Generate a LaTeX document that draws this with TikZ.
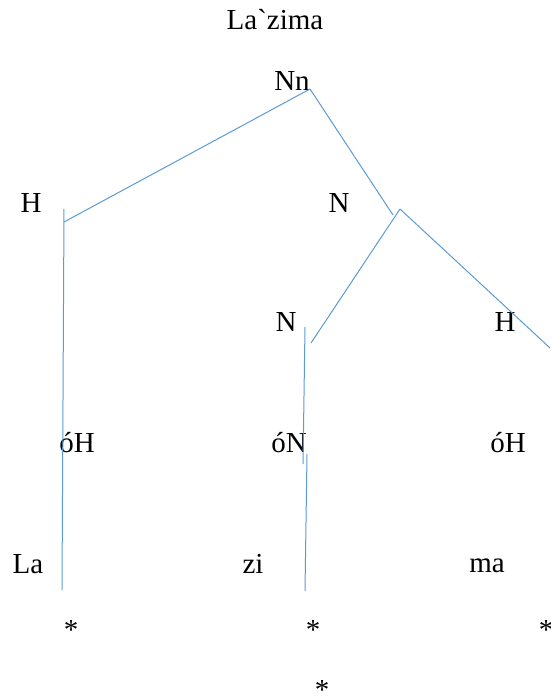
\documentclass[tikz,border=0pt]{standalone}
\usepackage{fontspec}
\setmainfont{Liberation Serif}[Ligatures=TeXOff]
\definecolor{branchblue}{HTML}{5B9BD5}

\tikzset{
    lbl/.style={anchor=base,inner sep=0pt,font=\fontsize{29}{34}\selectfont},
    branch/.style={draw=branchblue,line width=1pt}
}

\begin{document}
\begin{tikzpicture}[x=1pt,y=-1pt]
    \useasboundingbox (0,0) rectangle (550,696);

    % labels of the tree
    \node[lbl] (word) at (275,29) {La`zima};
    \node[lbl] (nn) at (292,90) {Nn};
    \node[lbl] (hleft) at (31,212) {H};
    \node[lbl] (nmid) at (339,212) {N};
    \node[lbl] (nlow) at (286,331) {N};
    \node[lbl] (hright) at (505,331) {H};
    \node[lbl] (oha) at (77,452) {óH};
    \node[lbl] (on) at (289,452) {óN};
    \node[lbl] (ohb) at (508,452) {óH};
    \node[lbl] (la) at (28,573) {La};
    \node[lbl] (zi) at (253,573) {zi};
    \node[lbl] (ma) at (487,572) {ma};
    \node[lbl] (stara) at (71,639) {*};
    \node[lbl] (starb) at (313,639) {*};
    \node[lbl] (starc) at (546,639) {*};
    \node[lbl] (stard) at (322,699) {*};

    % branch ends
    \coordinate (nntip) at (310,89);
    \coordinate (ntip) at (400,209);
    \coordinate (hjoin) at (64,222);
    \coordinate (njoin) at (393,215);

    \draw[branch] (nntip) -- (hjoin);
    \draw[branch] (nntip) -- (njoin);
    \draw[branch] (ntip) -- (311,343);
    \draw[branch] (ntip) -- (550,348);

    \draw[branch] (64,209) -- (62,590);
    \draw[branch] (305,327) -- (303,464);
    \draw[branch] (307,454) -- (305,591);
\end{tikzpicture}
\end{document}
